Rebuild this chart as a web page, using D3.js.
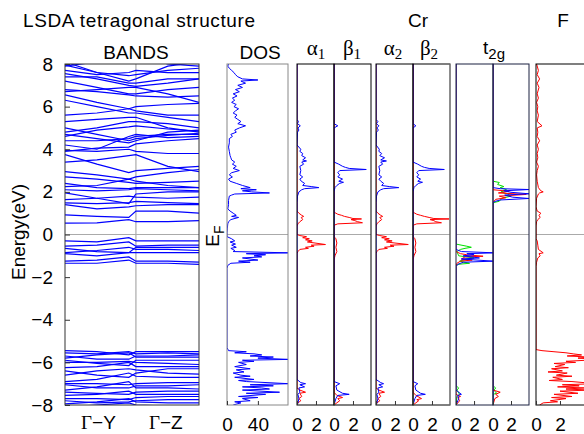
<!DOCTYPE html>
<html>
<head>
<meta charset="utf-8">
<script src="https://cdn.jsdelivr.net/npm/d3@7"></script>
<style>
  body { margin: 0; background: #fff; }
  text { font-family: "Liberation Sans", Arial, sans-serif; fill: #000; }
  .serif { font-family: "Liberation Serif", "Times New Roman", serif; }
</style>
</head>
<body>
<div id="chart-area"></div>
<script>
// ---- data ----
const energyTicks = [-8, -6, -4, -2, 0, 2, 4, 6, 8];
const kPts = [0, 0.45, 0.9, 1, 1.45, 1.89];   // Y ... Gamma ... Z
const kLabels = ["Γ−Y", "Γ−Z"];

// band energies (eV) at each k point
const bands = [
  [8.1, 7.6, 7.2, 7.3, 7.9, 8.1],
  [7.9, 8.1, 8.4, 8.4, 8.0, 7.9],
  [7.95, 7.6, 7.45, 7.5, 7.7, 7.8],
  [7.7, 7.5, 7.6, 7.7, 7.6, 7.6],
  [7.55, 7.3, 7.0, 6.95, 7.1, 7.3],
  [7.4, 7.4, 7.1, 7.1, 7.3, 7.3],
  [7.2, 6.9, 6.6, 6.6, 6.8, 6.9],
  [6.8, 6.7, 6.55, 6.5, 6.45, 6.5],
  [6.7, 6.8, 6.9, 6.9, 6.6, 6.2],
  [6.55, 6.2, 5.9, 6.0, 6.1, 6.15],
  [6.3, 6.0, 5.7, 5.7, 5.5, 5.3],
  [5.6, 5.7, 5.9, 5.8, 5.6, 5.6],
  [5.3, 5.4, 5.5, 5.5, 5.0, 4.8],
  [5.0, 4.7, 4.4, 4.5, 4.65, 4.75],
  [4.8, 5.0, 5.3, 5.3, 5.2, 5.0],
  [4.7, 4.5, 4.3, 4.4, 4.8, 4.9],
  [4.6, 4.9, 5.05, 5.1, 4.95, 4.85],
  [4.4, 4.4, 4.5, 4.6, 4.7, 4.7],
  [4.2, 4.0, 4.6, 4.7, 4.55, 4.6],
  [3.95, 3.9, 4.0, 3.9, 3.8, 3.8],
  [3.9, 4.05, 4.1, 4.25, 4.4, 4.5],
  [3.75, 3.3, 2.9, 3.0, 3.1, 3.2],
  [3.4, 3.5, 3.7, 3.75, 3.2, 2.95],
  [2.95, 2.8, 2.6, 2.7, 2.9, 3.05],
  [2.7, 2.6, 2.45, 2.4, 2.45, 2.5],
  [2.4, 2.2, 2.15, 2.2, 2.2, 2.2],
  [2.25, 2.3, 2.6, 2.5, 2.3, 2.2],
  [2.1, 2.05, 2.1, 2.15, 2.1, 2.05],
  [1.95, 1.7, 1.45, 1.9, 2.0, 2.0],
  [1.64, 1.7, 1.8, 1.75, 1.7, 1.75],
  [1.48, 1.45, 1.5, 1.55, 1.5, 1.45],
  [1.4, 1.2, 1.3, 1.35, 1.4, 1.4],
  [0.92, 0.85, 0.8, 1.1, 1.1, 1.0],
  [0.53, 0.55, 0.7, 0.6, 0.6, 0.65],
  [-0.3, -0.35, -0.15, -0.3, -0.3, -0.3],
  [-0.55, -0.5, -0.35, -0.55, -0.5, -0.5],
  [-0.65, -0.8, -0.85, -0.6, -0.6, -0.6],
  [-0.85, -0.75, -0.6, -0.7, -0.7, -0.75],
  [-0.9, -1.0, -0.85, -0.85, -0.85, -0.85],
  [-1.25, -1.2, -1.05, -1.25, -1.25, -1.3],
  [-1.35, -1.35, -1.2, -1.35, -1.35, -1.4],
  [-5.45, -5.5, -5.65, -5.5, -5.5, -5.5],
  [-5.55, -5.6, -5.5, -5.6, -5.55, -5.6],
  [-5.7, -5.85, -5.85, -5.7, -5.7, -5.65],
  [-5.8, -5.65, -5.55, -5.75, -5.75, -5.75],
  [-5.9, -6.05, -6.15, -5.9, -5.9, -5.9],
  [-6.0, -6.0, -5.95, -6.0, -6.05, -6.1],
  [-6.25, -6.2, -6.0, -6.2, -6.2, -6.2],
  [-6.4, -6.6, -6.7, -6.5, -6.3, -6.3],
  [-6.6, -6.4, -6.3, -6.35, -6.5, -6.55],
  [-6.9, -6.8, -6.5, -6.65, -6.7, -6.7],
  [-7.0, -7.0, -7.05, -7.0, -6.95, -6.95],
  [-7.05, -7.2, -7.2, -7.1, -7.1, -7.05],
  [-7.3, -7.15, -6.9, -7.2, -7.2, -7.25],
  [-7.4, -7.45, -7.5, -7.4, -7.35, -7.35],
  [-7.55, -7.5, -7.35, -7.5, -7.5, -7.5],
  [-7.7, -7.7, -7.75, -7.65, -7.6, -7.6],
  [-7.8, -7.9, -7.85, -7.8, -7.75, -7.75],
  [-7.95, -7.85, -7.7, -7.85, -7.9, -7.9],
  [-8.1, -8.0, -7.9, -8.0, -8.05, -8.05]
];

// total DOS: [energy, states]
const dosTotal = [
  [8.0,2],[7.9,1],[7.8,3],[7.7,6],[7.6,9],[7.5,11],[7.4,14],[7.3,20],[7.25,40],[7.2,18],
  [7.1,24],[7.0,14],[6.9,20],[6.8,11],[6.7,16],[6.6,8],[6.5,13],[6.4,7],[6.3,10],[6.2,6],
  [6.1,12],[6.0,9],[5.9,15],[5.8,11],[5.7,8],[5.6,13],[5.5,10],[5.4,14],[5.3,18],[5.2,14],
  [5.1,24],[5.0,16],[4.9,10],[4.8,12],[4.7,5],[4.6,7],[4.5,3],[4.3,3],[4.1,2],[3.9,3],
  [3.7,4],[3.6,5],[3.5,6],[3.4,10],[3.3,7],[3.2,12],[3.1,8],[3.0,16],[2.9,6],[2.8,3],
  [2.7,7],[2.6,2],[2.5,4],[2.4,12],[2.3,20],[2.2,30],[2.15,18],[2.1,38],[2.05,20],[2.0,32],
  [1.95,55],[1.9,10],[1.85,6],[1.8,3],[1.6,2],[1.4,2],[1.2,1],[1.1,4],[1.0,8],[0.9,12],
  [0.85,6],[0.8,15],[0.7,5],[0.6,2],[0.5,1],[0.3,0.5],[0.1,0],[-0.1,0],[-0.2,6],[-0.3,10],
  [-0.35,4],[-0.45,11],[-0.5,6],[-0.6,12],[-0.65,5],[-0.75,10],[-0.8,8],[-0.86,80],[-0.9,25],[-0.95,50],
  [-1.0,35],[-1.05,45],[-1.1,20],[-1.2,40],[-1.25,15],[-1.3,30],[-1.35,5],[-1.45,1],[-1.6,0],[-5.3,0],
  [-5.45,2],[-5.5,25],[-5.55,10],[-5.6,35],[-5.65,45],[-5.7,30],[-5.75,60],[-5.8,40],[-5.86,80],[-5.9,20],
  [-5.95,35],[-6.0,15],[-6.1,25],[-6.2,10],[-6.3,30],[-6.35,12],[-6.45,22],[-6.5,8],[-6.6,18],[-6.65,30],
  [-6.7,10],[-6.8,35],[-6.85,15],[-6.9,25],[-7.0,80],[-7.05,30],[-7.1,60],[-7.15,20],[-7.2,45],[-7.25,55],
  [-7.3,20],[-7.4,68],[-7.45,25],[-7.5,50],[-7.6,15],[-7.65,40],[-7.7,20],[-7.8,30],[-7.85,10],[-7.9,18],[-8.0,8]
];

// Cr site 1
const a1Blue = [
  [8,0],[5.4,0],[5.3,0.15],[5.2,0.05],[5.1,0.35],[5.0,0.1],[4.9,0.2],[4.8,0.05],[4.2,0],[4.0,0.4],
  [3.9,0.3],[3.8,0.6],[3.7,0.5],[3.6,0.9],[3.5,0.6],[3.45,1.0],[3.4,0.5],[3.3,0.7],[3.2,0.3],[3.0,0.4],
  [2.8,0.3],[2.7,0.6],[2.6,0.3],[2.5,0.45],[2.4,0.8],[2.3,0.6],[2.25,1.5],[2.2,2.3],[2.15,0.8],[2.1,0.5],
  [2.0,0.2],[1.8,0.05],[1.5,0],[-6.8,0],[-6.95,0.4],[-7.0,0.9],[-7.05,0.3],[-7.15,0.8],[-7.2,0.2],
  [-7.4,0.3],[-7.5,0.1],[-7.7,0.2],[-7.9,0.1],[-8,0]
];
const a1Red = [
  [8,0],[1.1,0],[1.0,0.2],[0.9,0.5],[0.85,0.7],[0.8,0.45],[0.7,0.6],[0.6,0.3],[0.5,0.1],[0.4,0],
  [0,0],[-0.05,0.3],[-0.1,1.0],[-0.15,0.6],[-0.2,1.3],[-0.25,0.9],[-0.3,1.6],[-0.35,1.1],[-0.4,1.9],
  [-0.47,3.0],[-0.5,1.5],[-0.55,1.8],[-0.6,0.9],[-0.65,1.2],[-0.7,0.3],[-0.8,0.1],[-0.9,0],
  [-7.2,0],[-7.3,0.3],[-7.4,0.9],[-7.45,0.3],[-7.6,0.5],[-7.7,0.2],[-7.8,0.4],[-7.9,0.1],[-8,0]
];
const b1Blue = [
  [8,0],[5.2,0],[5.1,0.4],[5.0,0],[3.4,0],[3.3,0.5],[3.2,0.9],[3.15,1.2],[3.1,1.6],[3.05,3.4],
  [3.0,0.6],[2.9,0.4],[2.8,0.6],[2.7,0.4],[2.6,0.9],[2.5,0.5],[2.45,1.0],[2.4,0.6],[2.3,0.3],[2.2,0.1],
  [2.0,0],[-6.9,0],[-7.0,0.6],[-7.1,0.2],[-7.3,0.3],[-7.45,0.9],[-7.5,1.6],[-7.55,0.4],[-7.7,0.2],[-8,0]
];
const b1Red = [
  [8,0],[1.05,0],[1.0,0.2],[0.95,0.4],[0.9,0.8],[0.85,1.1],[0.8,1.6],[0.75,2.0],[0.73,2.9],[0.7,1.8],
  [0.65,2.2],[0.6,2.5],[0.55,3.0],[0.5,0.4],[0.45,0.1],[0.4,0],[-0.1,0],[-0.2,0.2],[-0.4,0.3],[-0.6,0.2],
  [-0.8,0.3],[-1.0,0.1],[-1.2,0],[-7.4,0],[-7.55,0.3],[-7.65,0.9],[-7.7,0.4],[-7.8,0.6],[-7.9,0.3],[-8,0]
];
// Cr site 2
const a2Blue = [
  [8,0],[5.4,0],[5.3,0.2],[5.2,0.05],[5.1,0.3],[5.0,0.1],[4.9,0.25],[4.8,0.05],[4.2,0],[4.0,0.35],
  [3.9,0.3],[3.8,0.6],[3.7,0.4],[3.6,0.9],[3.5,0.5],[3.45,1.1],[3.4,0.5],[3.3,0.7],[3.2,0.3],[3.0,0.4],
  [2.8,0.3],[2.7,0.6],[2.6,0.3],[2.5,0.5],[2.4,0.8],[2.3,0.6],[2.25,1.4],[2.2,2.4],[2.15,0.8],[2.1,0.5],
  [2.0,0.2],[1.8,0.05],[1.5,0],[-6.8,0],[-6.95,0.5],[-7.0,0.8],[-7.05,0.3],[-7.15,0.7],[-7.2,0.2],
  [-7.4,0.3],[-7.5,0.1],[-7.7,0.2],[-7.9,0.1],[-8,0]
];
const a2Red = [
  [8,0],[1.1,0],[1.0,0.2],[0.9,0.5],[0.85,0.7],[0.8,0.4],[0.7,0.6],[0.6,0.3],[0.5,0.1],[0.4,0],
  [0,0],[-0.05,0.4],[-0.1,1.1],[-0.15,0.6],[-0.2,1.4],[-0.25,0.9],[-0.3,1.7],[-0.35,1.1],[-0.4,2.0],
  [-0.47,3.4],[-0.5,1.5],[-0.55,1.9],[-0.6,0.9],[-0.65,1.2],[-0.7,0.3],[-0.8,0.1],[-0.9,0],
  [-7.2,0],[-7.3,0.3],[-7.4,0.9],[-7.45,0.3],[-7.6,0.5],[-7.7,0.2],[-7.8,0.4],[-7.9,0.1],[-8,0]
];
const b2Blue = [
  [8,0],[5.2,0],[5.1,0.3],[5.0,0],[3.4,0],[3.3,0.5],[3.2,0.9],[3.15,1.2],[3.1,1.7],[3.05,3.3],
  [3.0,0.6],[2.9,0.4],[2.8,0.6],[2.7,0.4],[2.6,0.8],[2.5,0.5],[2.45,1.0],[2.4,0.6],[2.3,0.3],[2.2,0.1],
  [2.0,0],[-6.9,0],[-7.0,0.5],[-7.1,0.2],[-7.3,0.3],[-7.45,0.8],[-7.5,1.3],[-7.55,0.4],[-7.7,0.2],[-8,0]
];
const b2Red = [
  [8,0],[1.05,0],[1.0,0.2],[0.95,0.4],[0.9,0.8],[0.85,1.2],[0.8,1.7],[0.75,2.2],[0.73,3.8],[0.7,1.8],
  [0.65,2.2],[0.6,2.4],[0.55,3.0],[0.5,0.4],[0.45,0.1],[0.4,0],[-0.1,0],[-0.2,0.2],[-0.4,0.3],[-0.6,0.2],
  [-0.8,0.3],[-1.0,0.1],[-1.2,0],[-7.4,0],[-7.55,0.3],[-7.7,0.9],[-7.75,0.4],[-7.8,0.6],[-7.9,0.3],[-8,0]
];
// Cr t2g, site 1 and site 2
const t1Green = [
  [8,0],[-0.45,0],[-0.55,1.2],[-0.6,1.7],[-0.65,1.0],[-0.7,0.5],[-0.8,0.1],[-1.0,0.3],[-1.1,2.0],
  [-1.15,1.2],[-1.25,0.4],[-1.35,1.5],[-1.4,0.2],[-1.5,0],[-7.1,0],[-7.2,0.3],[-7.3,0.1],[-7.5,0.4],[-7.6,0.1],[-8,0]
];
const t1Blue = [
  [8,0],[-0.7,0],[-0.8,0.6],[-0.86,4.3],[-0.9,1.2],[-0.95,2.0],[-1.0,0.8],[-1.1,2.6],[-1.15,0.6],
  [-1.25,4.1],[-1.3,0.8],[-1.4,0.2],[-1.5,0],[-7.3,0],[-7.4,0.3],[-7.5,0.6],[-7.55,0.2],[-7.7,0.3],[-8,0]
];
const t1Red = [
  [8,0],[-0.8,0],[-0.9,0.5],[-0.95,1.2],[-1.02,3.0],[-1.05,1.0],[-1.15,0.6],[-1.2,1.8],[-1.25,0.5],
  [-1.35,0.1],[-1.5,0],[-7.5,0],[-7.6,0.5],[-7.65,0.2],[-7.8,0.4],[-8,0]
];
const t2Green = [
  [8,0],[2.5,0],[2.44,0.7],[2.35,0.5],[2.25,1.2],[2.2,0.8],[2.1,1.5],[2.0,0.9],[1.9,1.6],[1.8,2.0],
  [1.7,1.0],[1.56,0.7],[1.5,0.1],[1.4,0],[-7.1,0],[-7.2,0.3],[-7.3,0.1],[-7.45,0.4],[-7.5,0],[-8,0]
];
const t2Blue = [
  [8,0],[2.2,0],[2.15,0.8],[2.11,4.0],[2.05,1.2],[1.98,2.0],[1.91,4.0],[1.85,1.3],[1.75,2.2],
  [1.69,4.0],[1.62,0.8],[1.55,0.2],[1.5,0],[-8,0]
];
const t2Red = [
  [8,0],[2.1,0],[2.03,1.8],[1.95,0.6],[1.88,3.7],[1.8,0.7],[1.72,1.4],[1.65,0.3],[1.5,0],
  [-7.3,0],[-7.4,0.8],[-7.5,0.3],[-7.6,0.6],[-7.7,0.2],[-8,0]
];
// F
const fRed = [
  [8.0,0.05],[7.7,0.2],[7.5,0.1],[7.3,0.3],[7.1,0.1],[6.9,0.25],[6.6,0.1],[6.4,0.2],[6.2,0.05],[6.0,0.15],
  [5.8,0.1],[5.6,0.2],[5.3,0.1],[5.1,0.5],[5.0,0.1],[4.8,0.15],[4.6,0.1],[4.4,0.3],[4.2,0.1],[4.0,0.2],
  [3.8,0.1],[3.6,0.15],[3.4,0.05],[3.2,0.2],[3.0,0.1],[2.8,0.05],[2.5,0.1],[2.2,0.2],[2.05,0.4],[2.0,0.6],
  [1.95,0.3],[1.9,0.2],[1.7,0.05],[1.3,0],[1.1,0.1],[1.0,0.4],[0.9,0.25],[0.8,0.35],[0.7,0.15],[0.6,0.05],
  [0.4,0],[-0.2,0],[-0.3,0.1],[-0.5,0.15],[-0.7,0.2],[-0.86,0.6],[-0.9,0.25],[-1.0,0.35],[-1.1,0.15],[-1.3,0.05],
  [-1.5,0],[-5.4,0],[-5.45,0.5],[-5.5,1.5],[-5.55,2.5],[-5.6,3.1],[-5.65,3.8],[-5.7,2.6],[-5.75,4.5],[-5.8,3.5],
  [-5.85,5.0],[-5.9,4.2],[-5.95,2.5],[-6.0,3.3],[-6.05,1.5],[-6.1,2.4],[-6.2,1.6],[-6.25,2.7],[-6.3,1.3],[-6.4,2.2],
  [-6.45,1.0],[-6.5,2.6],[-6.6,1.7],[-6.65,3.0],[-6.7,1.4],[-6.8,2.2],[-6.85,1.1],[-6.9,3.0],[-7.0,5.0],[-7.05,2.2],
  [-7.1,3.6],[-7.15,1.8],[-7.2,4.0],[-7.25,2.5],[-7.3,4.5],[-7.35,2.0],[-7.45,3.5],[-7.5,1.5],[-7.6,3.0],[-7.65,1.3],
  [-7.7,2.5],[-7.8,1.2],[-7.85,1.8],[-7.9,0.6],[-8.0,0.3]
];

// ---- layout ----
const W = 584, H = 434;
const topY = 64, bottomY = 405;
const FS = 19;
const svg = d3.select("#chart-area").append("svg")
    .attr("width", W).attr("height", H);

const y = d3.scaleLinear().domain([-8, 8]).range([bottomY, topY]);

const BLUE = "#0000ff", RED = "#ff0000", GREEN = "#00e000";

const panels = [
  {id: "dos", x0: 227, x1: 288, max: 79, ticks: [0, 40], border: "#888",
   series: [[dosTotal, BLUE]]},
  {id: "a1", x0: 297, x1: 334, max: 3.9, ticks: [0, 2], border: "#000",
   series: [[a1Red, RED], [a1Blue, BLUE]]},
  {id: "b1", x0: 334, x1: 371, max: 3.9, ticks: [0, 2], border: "#000",
   series: [[b1Red, RED], [b1Blue, BLUE]]},
  {id: "a2", x0: 376, x1: 413, max: 3.9, ticks: [0, 2], border: "#000",
   series: [[a2Red, RED], [a2Blue, BLUE]]},
  {id: "b2", x0: 413, x1: 450, max: 3.9, ticks: [0, 2], border: "#000", rightGray: true,
   series: [[b2Red, RED], [b2Blue, BLUE]]},
  {id: "t1", x0: 456, x1: 493, max: 4.1, ticks: [0, 2], border: "#1a2040",
   series: [[t1Green, GREEN], [t1Red, RED], [t1Blue, BLUE]]},
  {id: "t2", x0: 493, x1: 529, max: 4.0, ticks: [0, 2], border: "#1a2040",
   series: [[t2Green, GREEN], [t2Red, RED], [t2Blue, BLUE]]},
  {id: "f", x0: 536, x1: 598, max: 5.17, ticks: [0, 2], border: "#000",
   series: [[fRed, RED]]}
];

const defs = svg.append("defs");

function clipFor(id, x0, x1) {
  defs.append("clipPath").attr("id", "clip-" + id)
    .append("rect").attr("x", x0).attr("y", topY)
    .attr("width", x1 - x0).attr("height", bottomY - topY);
  return "url(#clip-" + id + ")";
}

function fermi(g, x0, x1) {
  g.append("line")
    .attr("x1", x0).attr("x2", x1)
    .attr("y1", y(0)).attr("y2", y(0))
    .attr("stroke", "#aaa").attr("stroke-width", 1);
}

// ---- bands panel ----
const kx = d3.scaleLinear().domain([0, kPts[kPts.length - 1]]).range([65, 199]);
const gb = svg.append("g");
const bandsClip = clipFor("bands", 65, 199);
gb.append("line").attr("x1", kx(1)).attr("x2", kx(1))
  .attr("y1", topY).attr("y2", bottomY).attr("stroke", "#bbb").attr("stroke-width", 1.5);
fermi(gb, 65, 199);
const bandLine = d3.line().x((d, i) => kx(kPts[i])).y(d => y(d));
gb.append("g").attr("clip-path", bandsClip)
  .selectAll("path").data(bands).enter().append("path")
  .attr("d", bandLine)
  .attr("fill", "none").attr("stroke", BLUE).attr("stroke-width", 1.2);
gb.append("rect").attr("x", 65).attr("y", topY).attr("width", 134).attr("height", bottomY - topY)
  .attr("fill", "none").attr("stroke", "#333");

const yAxis = d3.axisLeft(y).tickValues(energyTicks)
  .tickSizeInner(-5).tickSizeOuter(0).tickPadding(12);
const ya = svg.append("g").attr("transform", "translate(65,0)").call(yAxis);
ya.select(".domain").remove();
ya.selectAll(".tick line").attr("stroke", "#333");
ya.selectAll("text").attr("font-size", FS)
  .attr("font-family", "Liberation Sans, Arial, sans-serif");

const kLabelX = [kx(0.5), kx(1.45)];
kLabels.forEach((lab, i) => {
  const t = svg.append("text").attr("x", kLabelX[i] - 2).attr("y", 429)
    .attr("text-anchor", "middle").attr("font-size", FS);
  t.append("tspan").attr("class", "serif").text(lab.slice(0, 1));
  t.append("tspan").text(lab.slice(1));
});

// ---- DOS panels ----
panels.forEach(p => {
  const x = d3.scaleLinear().domain([0, p.max]).range([p.x0, p.x1]);
  const g = svg.append("g");
  const clip = clipFor(p.id, p.x0, p.x1);
  fermi(g, p.x0, p.x1);
  const line = d3.line().x(d => x(d[1])).y(d => y(d[0]));
  const cg = g.append("g").attr("clip-path", clip);
  p.series.forEach(s => {
    cg.append("path").attr("d", line(s[0]))
      .attr("fill", "none").attr("stroke", s[1]).attr("stroke-width", 1);
  });
  g.append("rect").attr("x", p.x0).attr("y", topY)
    .attr("width", p.x1 - p.x0).attr("height", bottomY - topY)
    .attr("fill", "none").attr("stroke", p.border);
  if (p.rightGray) {
    g.append("line").attr("x1", p.x1).attr("x2", p.x1)
      .attr("y1", topY).attr("y2", bottomY).attr("stroke", "#999");
  }
  const ax = d3.axisBottom(x).tickValues(p.ticks).tickFormat(d3.format("d"))
    .tickSizeInner(-4).tickSizeOuter(0).tickPadding(13);
  const ag = svg.append("g").attr("transform", `translate(0,${bottomY})`).call(ax);
  ag.select(".domain").remove();
  ag.selectAll(".tick line").attr("stroke", "#333");
  ag.selectAll("text").attr("font-size", FS)
    .attr("font-family", "Liberation Sans, Arial, sans-serif");
});

// ---- titles ----
svg.append("text").attr("x", 23).attr("y", 27).attr("font-size", FS)
  .attr("letter-spacing", 0.6).text("LSDA tetragonal structure");
svg.append("text").attr("x", 136).attr("y", 59).attr("font-size", FS)
  .attr("text-anchor", "middle").text("BANDS");
svg.append("text").attr("x", 260).attr("y", 59).attr("font-size", FS)
  .attr("text-anchor", "middle").text("DOS");
svg.append("text").attr("x", 418).attr("y", 27).attr("font-size", FS)
  .attr("text-anchor", "middle").text("Cr");
svg.append("text").attr("x", 563).attr("y", 27).attr("font-size", FS)
  .attr("text-anchor", "middle").text("F");

const greek = [["α", "1", 316], ["β", "1", 352], ["α", "2", 393], ["β", "2", 429]];
greek.forEach(d => {
  const t = svg.append("text").attr("x", d[2]).attr("y", 55)
    .attr("text-anchor", "middle").attr("font-size", 21).attr("class", "serif");
  t.append("tspan").text(d[0]);
  t.append("tspan").attr("dy", 4).attr("font-size", 15).text(d[1]);
});
const t2g = svg.append("text").attr("x", 494).attr("y", 54)
  .attr("text-anchor", "middle").attr("font-size", FS);
t2g.append("tspan").text("t");
t2g.append("tspan").attr("dy", 5).attr("font-size", 15).text("2g");

svg.append("text").attr("transform", "translate(25,232) rotate(-90)")
  .attr("text-anchor", "middle").attr("font-size", FS).text("Energy(eV)");
const ef = svg.append("text").attr("transform", "translate(219,236) rotate(-90)")
  .attr("text-anchor", "middle").attr("font-size", FS);
ef.append("tspan").text("E");
ef.append("tspan").attr("dy", 5).attr("font-size", 14).text("F");
</script>
</body>
</html>
